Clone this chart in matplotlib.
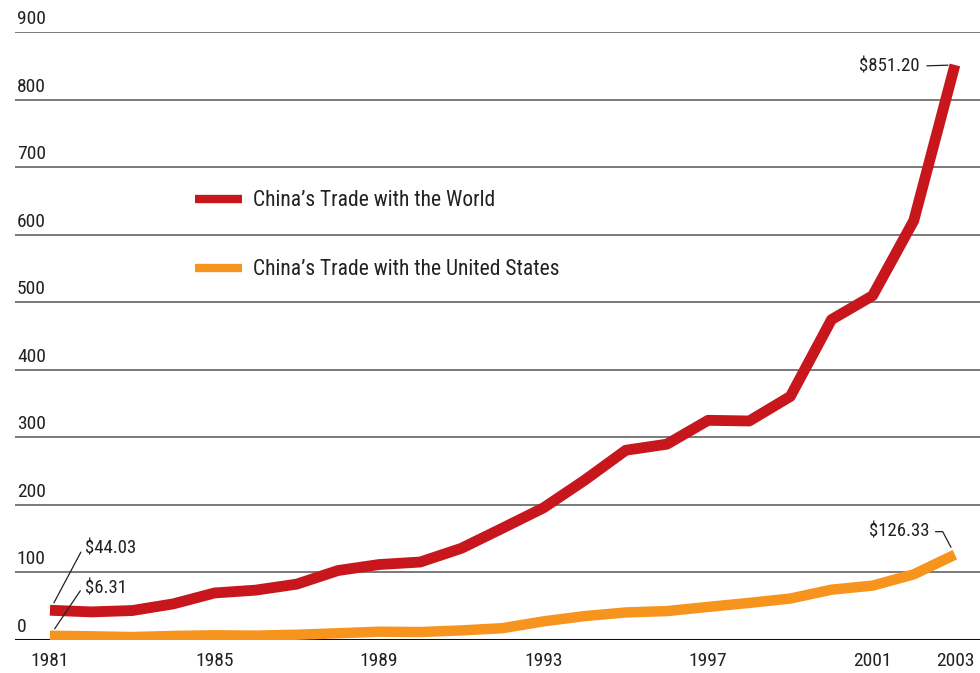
import matplotlib.pyplot as plt
import matplotlib.transforms as mtransforms

# =========================
# DATA (billions of US$)
# =========================
years = list(range(1981, 2004))
world_trade = [44.03, 41.6, 43.6, 53.5, 69.6, 73.8, 82.7, 102.8, 111.7, 115.4,
               135.7, 165.5, 195.7, 236.6, 280.9, 289.9, 325.2, 324.2, 360.6,
               474.3, 509.7, 620.8, 851.20]
us_trade = [6.31, 5.5, 4.4, 6.0, 7.0, 6.5, 7.8, 10.0, 12.3, 11.8,
            14.2, 17.5, 27.6, 35.4, 40.8, 42.8, 49.0, 54.9, 61.4,
            74.5, 80.5, 97.2, 126.33]
y_ticks = list(range(0, 1000, 100))
x_ticks = [1981, 1985, 1989, 1993, 1997, 2001, 2003]

RED = "#c8161d"
ORANGE = "#f7941d"
TEXT = "#222222"
FONT = ["Roboto Condensed", "Archivo Narrow", "Liberation Sans Narrow",
        "Liberation Sans", "DejaVu Sans"]

plt.rcParams["font.family"] = FONT

# =========================
# FIGURE
# =========================
fig = plt.figure(figsize=(9.8, 6.73), dpi=100)
ax = fig.add_axes([15 / 980, 33 / 673, 965 / 980, 608 / 673])
ax.set_xlim(1980.15, 2003.61)
ax.set_ylim(0, 900)

for s in ax.spines.values():
    s.set_visible(False)

# gridlines + y labels sitting on top of them
for v in y_ticks:
    if v == 0:
        ax.axhline(v, color="#111111", lw=2.2, zorder=1)
    else:
        ax.axhline(v, color="#555555", lw=1.1, zorder=1)
ax.set_yticks([])
trans = mtransforms.blended_transform_factory(ax.transAxes, ax.transData)
for v in y_ticks:
    ax.text(0.002, v + 6, str(v), transform=trans, ha="left", va="bottom",
            fontsize=14, color=TEXT)

ax.set_xticks(x_ticks)
ax.set_xticklabels([str(x) for x in x_ticks], fontsize=14, color=TEXT)
ax.tick_params(axis="x", length=0, pad=9)

# series
ax.plot(years, world_trade, color=RED, lw=7.8, solid_capstyle="butt",
        solid_joinstyle="round", zorder=3, label="China’s Trade with the World")
ax.plot(years, us_trade, color=ORANGE, lw=7.5, solid_capstyle="butt",
        solid_joinstyle="round", zorder=2, label="China’s Trade with the United States")

leg = ax.legend(loc="center left", bbox_to_anchor=(0.1865, 0.666), frameon=False,
                fontsize=15.5, handlelength=2.19, handletextpad=0.51,
                labelspacing=2.23, borderaxespad=0, borderpad=0)
for t in leg.get_texts():
    t.set_color(TEXT)
for h in leg.get_lines():
    h.set_linewidth(6)

# value callouts
lead = dict(arrowstyle="-", color=TEXT, lw=0.9, shrinkA=2)
ax.annotate(f"${world_trade[0]:.2f}", xy=(years[0], world_trade[0]),
            xytext=(35, 62), textcoords="offset pixels", ha="left", va="center",
            fontsize=13.5, color=TEXT,
            arrowprops=dict(lead, shrinkB=6,
                            connectionstyle="angle,angleA=0,angleB=62,rad=0"))
ax.annotate(f"${us_trade[0]:.2f}", xy=(years[0], us_trade[0]),
            xytext=(35, 47), textcoords="offset pixels", ha="left", va="center",
            fontsize=13.5, color=TEXT,
            arrowprops=dict(lead, shrinkB=6,
                            connectionstyle="angle,angleA=0,angleB=56,rad=0"))
ax.annotate(f"${world_trade[-1]:.2f}", xy=(years[-1], world_trade[-1]),
            xytext=(-35, -2), textcoords="offset pixels", ha="right", va="center",
            fontsize=13.5, color=TEXT,
            arrowprops=dict(lead, shrinkA=3, shrinkB=5))
ax.annotate(f"${us_trade[-1]:.2f}", xy=(years[-1], us_trade[-1]),
            xytext=(-25, 23), textcoords="offset pixels", ha="right", va="center",
            fontsize=13.5, color=TEXT,
            arrowprops=dict(lead, shrinkB=6,
                            connectionstyle="angle,angleA=0,angleB=-62,rad=0"))

fig.savefig("out.png", dpi=100)
